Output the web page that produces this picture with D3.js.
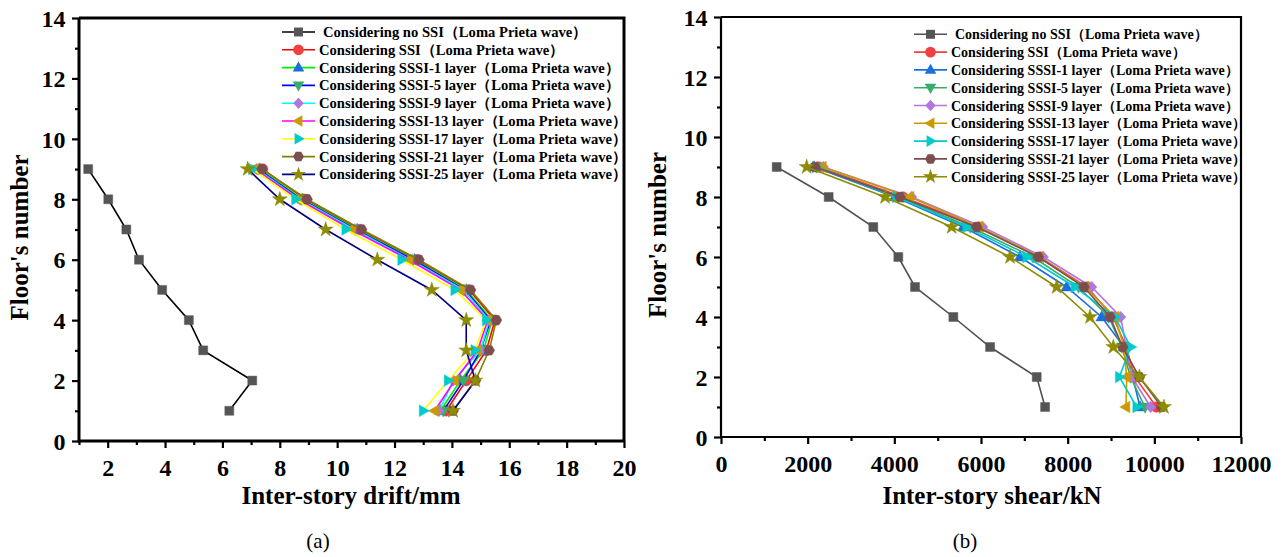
<!DOCTYPE html>
<html>
<head>
<meta charset="utf-8">
<script src="https://cdn.jsdelivr.net/npm/d3@7"></script>
<style>
  body { margin: 0; background: #fff; }
  svg text { font-family: "Liberation Serif", "Times New Roman", serif; }
</style>
</head>
<body>
<svg id="chart" width="1288" height="557"></svg>
<script>
// floors 1..9
const floors = [1, 2, 3, 4, 5, 6, 7, 8, 9];

const seriesNames = [
  'Considering no SSI', 'Considering SSI', 'Considering SSSI-1 layer', 'Considering SSSI-5 layer',
  'Considering SSSI-9 layer', 'Considering SSSI-13 layer', 'Considering SSSI-17 layer',
  'Considering SSSI-21 layer', 'Considering SSSI-25 layer'
];
const waveTag = '（Loma Prieta wave）';

// (a) inter-story drift, mm
const driftNoSSI = [6.24, 7.04, 5.33, 4.83, 3.90, 3.09, 2.65, 2.02, 1.32];
const driftSSI = [13.8, 14.5, 15.2, 15.5, 14.6, 12.8, 10.8, 8.9, 7.4];
const driftS1 = [13.6, 14.3, 15.1, 15.4, 14.5, 12.7, 10.7, 8.8, 7.3];
const driftS5 = [13.7, 14.4, 15.0, 15.35, 14.45, 12.65, 10.65, 8.75, 7.25];
const driftS9 = [13.55, 14.05, 15.0, 15.3, 14.4, 12.55, 10.6, 8.7, 7.2];
const driftS13 = [13.4, 14.1, 14.9, 15.25, 14.3, 12.5, 10.5, 8.65, 7.15];
const driftS17 = [13.0, 13.87, 14.8, 15.2, 14.1, 12.25, 10.3, 8.55, 7.05];
const driftS21 = [14.04, 14.82, 15.3, 15.55, 14.65, 12.85, 10.85, 8.95, 7.38];
const driftS25 = [14.04, 14.82, 14.5, 14.5, 13.3, 11.4, 9.6, 8.0, 6.88];

// (b) inter-story shear, kN
const shearNoSSI = [7479, 7286, 6209, 5362, 4477, 4092, 3515, 2485, 1285];
const shearSSI = [10050, 9550, 9350, 9050, 8450, 7350, 5950, 4200, 2250];
const shearS1 = [9670, 9500, 9300, 8785, 7977, 6900, 5592, 4015, 2150];
const shearS5 = [9785, 9450, 9250, 8950, 8250, 7200, 5750, 4100, 2200];
const shearS9 = [9916, 9480, 9350, 9223, 8554, 7438, 6039, 4400, 2362];
const shearS13 = [9346, 9362, 9300, 9092, 8400, 7350, 5950, 4360, 2340];
const shearS17 = [9593, 9192, 9454, 9092, 8170, 7054, 5670, 4050, 2200];
const shearS21 = [10170, 9654, 9269, 8977, 8377, 7323, 5900, 4130, 2169];
const shearS25 = [10223, 9654, 9054, 8515, 7746, 6670, 5323, 3785, 1977];

const driftTicks = [2, 4, 6, 8, 10, 12, 14, 16, 18, 20];
const shearTicks = [0, 2000, 4000, 6000, 8000, 10000, 12000];
const floorTicks = [0, 2, 4, 6, 8, 10, 12, 14];

const shapes = ['square', 'circle', 'up', 'down', 'diamond', 'left', 'right', 'hexagon', 'star'];
const markerColors = ['#555555', '#f14040', '#1a6fdf', '#37ad6b', '#b177de', '#cc9900', '#00cbcc', '#7d4e4e', '#8e8c00'];
const lineColorsA = ['#000000', '#ff0000', '#00ee00', '#0000ff', '#00ffff', '#ff00ff', '#ffff00', '#808000', '#000080'];
const lineColorsB = ['#515151', '#f14040', '#1a6fdf', '#37ad6b', '#b177de', '#cc9900', '#00cbcc', '#7d4e4e', '#8e8c00'];

const serif = '"Liberation Serif", "Times New Roman", serif';
const svg = d3.select('#chart');
svg.append('rect').attr('width', 1288).attr('height', 557).attr('fill', '#fff');

function markerPath(shape) {
  const s = 5.2;
  switch (shape) {
    case 'square': return d3.symbol(d3.symbolSquare, 80)();
    case 'circle': return d3.symbol(d3.symbolCircle, 90)();
    case 'up': return `M0,${-s - 1}L${s + 0.6},${s * 0.75}L${-s - 0.6},${s * 0.75}Z`;
    case 'down': return `M0,${s + 1}L${s + 0.6},${-s * 0.75}L${-s - 0.6},${-s * 0.75}Z`;
    case 'left': return `M${-s - 1},0L${s * 0.75},${-s - 0.6}L${s * 0.75},${s + 0.6}Z`;
    case 'right': return `M${s + 1},0L${-s * 0.75},${-s - 0.6}L${-s * 0.75},${s + 0.6}Z`;
    case 'diamond': return `M0,${-s - 0.6}L${s},0L0,${s + 0.6}L${-s},0Z`;
    case 'hexagon': {
      const pts = d3.range(6).map(k => {
        const a = Math.PI / 3 * k;
        return [s * 1.05 * Math.cos(a), s * 1.05 * Math.sin(a)];
      });
      return 'M' + pts.map(p => p.join(',')).join('L') + 'Z';
    }
    case 'star': return d3.symbol(d3.symbolStar, 70)();
  }
}

function drawPanel(opt) {
  const { x0, x1, y0, y1, xDomain, xTicks, xMinor, yMinor, series, lineColors, axisW, xTitle, xTitleX, tag, tagX, legX, legY, legFont, yTitleX } = opt;
  const x = d3.scaleLinear().domain(xDomain).range([x0, x1]);
  const y = d3.scaleLinear().domain([0, 14]).range([y0, y1]);
  const g = svg.append('g');

  // frame top/right
  g.append('path')
    .attr('d', `M${x0},${y1}H${x1}V${y0}`)
    .attr('fill', 'none').attr('stroke', '#000').attr('stroke-width', axisW);

  const xAxis = d3.axisBottom(x).tickValues(xTicks).tickSize(7).tickFormat(d3.format('d'));
  const yAxis = d3.axisLeft(y).tickValues(floorTicks).tickSize(7);
  const gx = g.append('g').attr('transform', `translate(0,${y0})`).call(xAxis);
  const gy = g.append('g').attr('transform', `translate(${x0},0)`).call(yAxis);
  g.append('g').attr('transform', `translate(0,${y0})`)
    .call(d3.axisBottom(x).tickValues(xMinor).tickSize(4).tickFormat(''));
  g.append('g').attr('transform', `translate(${x0},0)`)
    .call(d3.axisLeft(y).tickValues(yMinor).tickSize(4).tickFormat(''));
  g.selectAll('.domain').remove();
  g.append('path').attr('d', `M${x0},${y1}V${y0}H${x1}`)
    .attr('fill', 'none').attr('stroke', '#000').attr('stroke-width', axisW);
  g.selectAll('.tick line').attr('stroke-width', 2.2);
  gx.selectAll('text').attr('font-size', 24).attr('font-weight', 'bold').attr('dy', '1.05em')
    .attr('font-family', serif);
  gy.selectAll('text').attr('font-size', 24).attr('font-weight', 'bold').attr('dx', '-0.15em').attr('dy', '0.34em')
    .attr('font-family', serif);

  // axis titles
  g.append('text').attr('x', xTitleX).attr('y', 504).attr('text-anchor', 'middle')
    .attr('font-family', serif).attr('font-size', 25).attr('font-weight', 'bold').text(xTitle);
  g.append('text').attr('transform', `translate(${yTitleX},${(y0 + y1) / 2 + 8}) rotate(-90)`)
    .attr('text-anchor', 'middle').attr('font-family', serif).attr('font-size', 25).attr('font-weight', 'bold')
    .text("Floor's number");
  g.append('text').attr('x', tagX).attr('y', 548).attr('text-anchor', 'middle')
    .attr('font-family', serif).attr('font-size', 21).text(tag);

  const line = d3.line().x(d => x(d.v)).y(d => y(d.f));
  series.forEach((vals, i) => {
    const pts = vals.map((v, k) => ({ v, f: floors[k] }));
    g.append('path').datum(pts).attr('d', line)
      .attr('fill', 'none').attr('stroke', lineColors[i]).attr('stroke-width', 1.6);
    g.selectAll(null).data(pts).join('path')
      .attr('d', markerPath(shapes[i]))
      .attr('transform', d => `translate(${x(d.v)},${y(d.f)})`)
      .attr('fill', markerColors[i]).attr('stroke', markerColors[i]).attr('stroke-opacity', 0.6).attr('stroke-width', 0.8);
  });

  // legend
  const leg = g.append('g');
  seriesNames.forEach((name, i) => {
    const ry = legY + i * 17.8;
    leg.append('line').attr('x1', legX).attr('x2', legX + 33).attr('y1', ry).attr('y2', ry)
      .attr('stroke', lineColors[i]).attr('stroke-width', 1.6);
    leg.append('path').attr('d', markerPath(shapes[i]))
      .attr('transform', `translate(${legX + 16.5},${ry})`)
      .attr('fill', markerColors[i]);
    leg.append('text').attr('x', legX + 37 + (i === 0 ? 4 : 0)).attr('y', ry + 5)
      .attr('font-family', serif).attr('font-size', legFont).attr('font-weight', 'bold').text(name + waveTag);
  });
}

drawPanel({
  x0: 79, x1: 624, y0: 441, y1: 18,
  xDomain: [1, 20], xTicks: driftTicks, xMinor: [1, 3, 5, 7, 9, 11, 13, 15, 17, 19],
  yMinor: [1, 3, 5, 7, 9, 11, 13],
  series: [driftNoSSI, driftSSI, driftS1, driftS5, driftS9, driftS13, driftS17, driftS21, driftS25],
  lineColors: lineColorsA, axisW: 3,
  xTitle: 'Inter-story drift/mm', xTitleX: 351, tag: '(a)', tagX: 318,
  legX: 282, legY: 32, legFont: 14.6, yTitleX: 28
});

drawPanel({
  x0: 721, x1: 1241, y0: 437, y1: 17,
  xDomain: [0, 12000], xTicks: shearTicks, xMinor: [1000, 3000, 5000, 7000, 9000, 11000],
  yMinor: [1, 3, 5, 7, 9, 11, 13],
  series: [shearNoSSI, shearSSI, shearS1, shearS5, shearS9, shearS13, shearS17, shearS21, shearS25],
  lineColors: lineColorsB, axisW: 2.2,
  xTitle: 'Inter-story shear/kN', xTitleX: 992, tag: '(b)', tagX: 965,
  legX: 914, legY: 34.3, legFont: 14, yTitleX: 666
});
</script>
</body>
</html>
